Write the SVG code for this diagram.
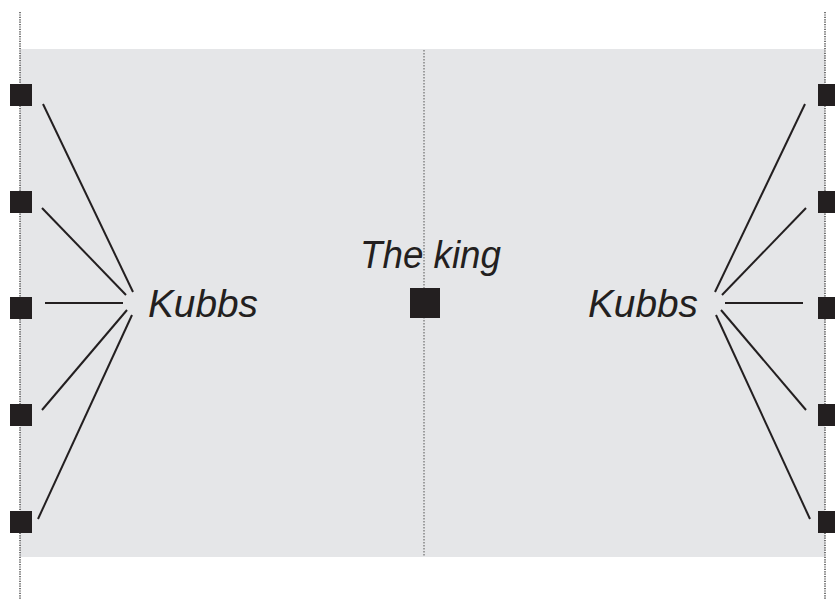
<svg xmlns="http://www.w3.org/2000/svg" width="835" height="600" viewBox="0 0 835 600">
  <style>
    .field { fill: #e5e6e8; }
    .edge { stroke: #4a4a4a; stroke-width: 1.5; stroke-dasharray: 1.2 1.2; fill: none; }
    .mid { stroke: #555; stroke-width: 1; stroke-dasharray: 1.5 1.5; fill: none; }
    .kubb { fill: #231f20; }
    .link { stroke: #231f20; stroke-width: 2; fill: none; }
    .label { font-family: "Liberation Sans", Arial, sans-serif; font-style: italic; font-size: 39px; fill: #231f20; }
  </style>
  <rect class="field" x="20" y="49" width="805" height="508"/>
  <line class="edge" x1="20" y1="12" x2="20" y2="600"/>
  <line class="edge" x1="825" y1="12" x2="825" y2="600"/>
  <line class="mid" x1="424" y1="50" x2="424" y2="556"/>

  <g id="connectors">
    <line class="link" x1="43" y1="104" x2="133" y2="292"/>
    <line class="link" x1="42" y1="208" x2="126" y2="295"/>
    <line class="link" x1="45" y1="303" x2="123" y2="303"/>
    <line class="link" x1="42" y1="410" x2="127" y2="310"/>
    <line class="link" x1="38" y1="519" x2="132" y2="315"/>
    <line class="link" x1="805" y1="104" x2="715" y2="292"/>
    <line class="link" x1="806" y1="208" x2="722" y2="295"/>
    <line class="link" x1="803" y1="303" x2="725" y2="303"/>
    <line class="link" x1="806" y1="410" x2="721" y2="310"/>
    <line class="link" x1="810" y1="519" x2="716" y2="315"/>
  </g>

  <g id="kubb-l1"><rect class="kubb" x="10" y="84" width="22" height="22"/></g>
  <g id="kubb-l2"><rect class="kubb" x="10" y="191" width="22" height="22"/></g>
  <g id="kubb-l3"><rect class="kubb" x="10" y="297" width="22" height="22"/></g>
  <g id="kubb-l4"><rect class="kubb" x="10" y="404" width="22" height="22"/></g>
  <g id="kubb-l5"><rect class="kubb" x="10" y="511" width="22" height="22"/></g>
  <g id="kubb-r1"><rect class="kubb" x="818" y="84" width="22" height="22"/></g>
  <g id="kubb-r2"><rect class="kubb" x="818" y="191" width="22" height="22"/></g>
  <g id="kubb-r3"><rect class="kubb" x="818" y="297" width="22" height="22"/></g>
  <g id="kubb-r4"><rect class="kubb" x="818" y="404" width="22" height="22"/></g>
  <g id="kubb-r5"><rect class="kubb" x="818" y="511" width="22" height="22"/></g>

  <g id="king">
    <rect class="kubb" x="410" y="288" width="30" height="30"/>
    <text class="label" x="360" y="267.5" textLength="141" lengthAdjust="spacingAndGlyphs">The king</text>
  </g>
  <g id="kubbs-left-label"><text class="label" x="148" y="316.5" textLength="110" lengthAdjust="spacingAndGlyphs">Kubbs</text></g>
  <g id="kubbs-right-label"><text class="label" x="588" y="316.5" textLength="110" lengthAdjust="spacingAndGlyphs">Kubbs</text></g>
</svg>
